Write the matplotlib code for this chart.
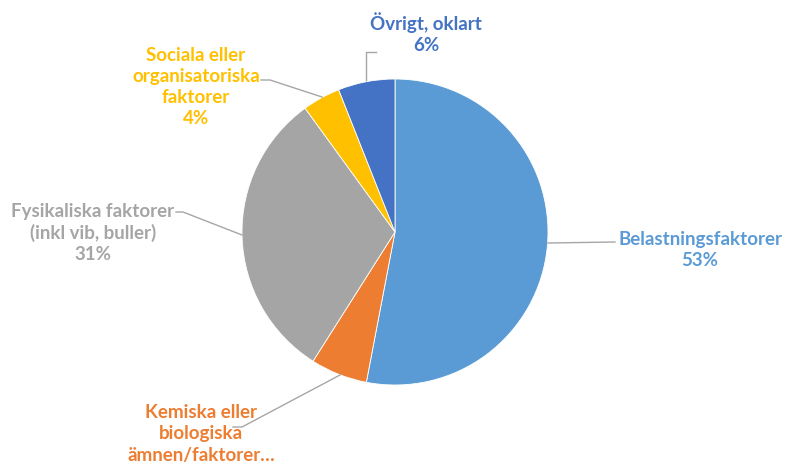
import matplotlib.pyplot as plt

labels = ["Belastningsfaktorer", "Kemiska eller\nbiologiska\nämnen/faktorer…",
          "Fysikaliska faktorer\n(inkl vib, buller)", "Sociala eller\norganisatoriska\nfaktorer",
          "Övrigt, oklart"]
values = [53, 6, 31, 4, 6]
show_pct = [True, False, True, True, True]
colors = ["#5B9BD5", "#ED7D31", "#A5A5A5", "#FFC000", "#4472C4"]

# label placement in pixel coords (x, y from top), leader line points
label_pos = [(700, 250), (201, 434), (93, 233), (196, 87), (426, 33)]
leaders = [
    [(548, 243), (615, 242)],
    [(340, 375), (242, 427), (233, 427)],
    [(242, 235), (183, 212), (176, 212)],
    [(322, 97), (270, 80), (261, 80)],
    [(366, 80), (366, 52), (376, 52)],
]

W, H = 787, 470
fig = plt.figure(figsize=(W / 100, H / 100), dpi=100)
ax = fig.add_axes([0, 0, 1, 1])
ax.set_xlim(0, W)
ax.set_ylim(0, H)
ax.axis('off')

ax.pie(values, colors=colors, center=(395, H - 232), radius=153, startangle=90,
       counterclock=False, wedgeprops=dict(linewidth=0.6, edgecolor='white'))
ax.set_xlim(0, W)
ax.set_ylim(0, H)
ax.set_aspect('equal')

for lab, v, sp, c, (x, y), pts in zip(labels, values, show_pct, colors, label_pos, leaders):
    txt = lab + (f"\n{v}%" if sp else "")
    ax.text(x, H - y, txt, color=c, ha='center', va='center', fontsize=13.5,
            fontweight='bold', family='Lato', linespacing=1.3)
    ax.plot([p[0] for p in pts], [H - p[1] for p in pts], color='#A6A6A6', lw=1)

fig.savefig("out.png", dpi=100)
